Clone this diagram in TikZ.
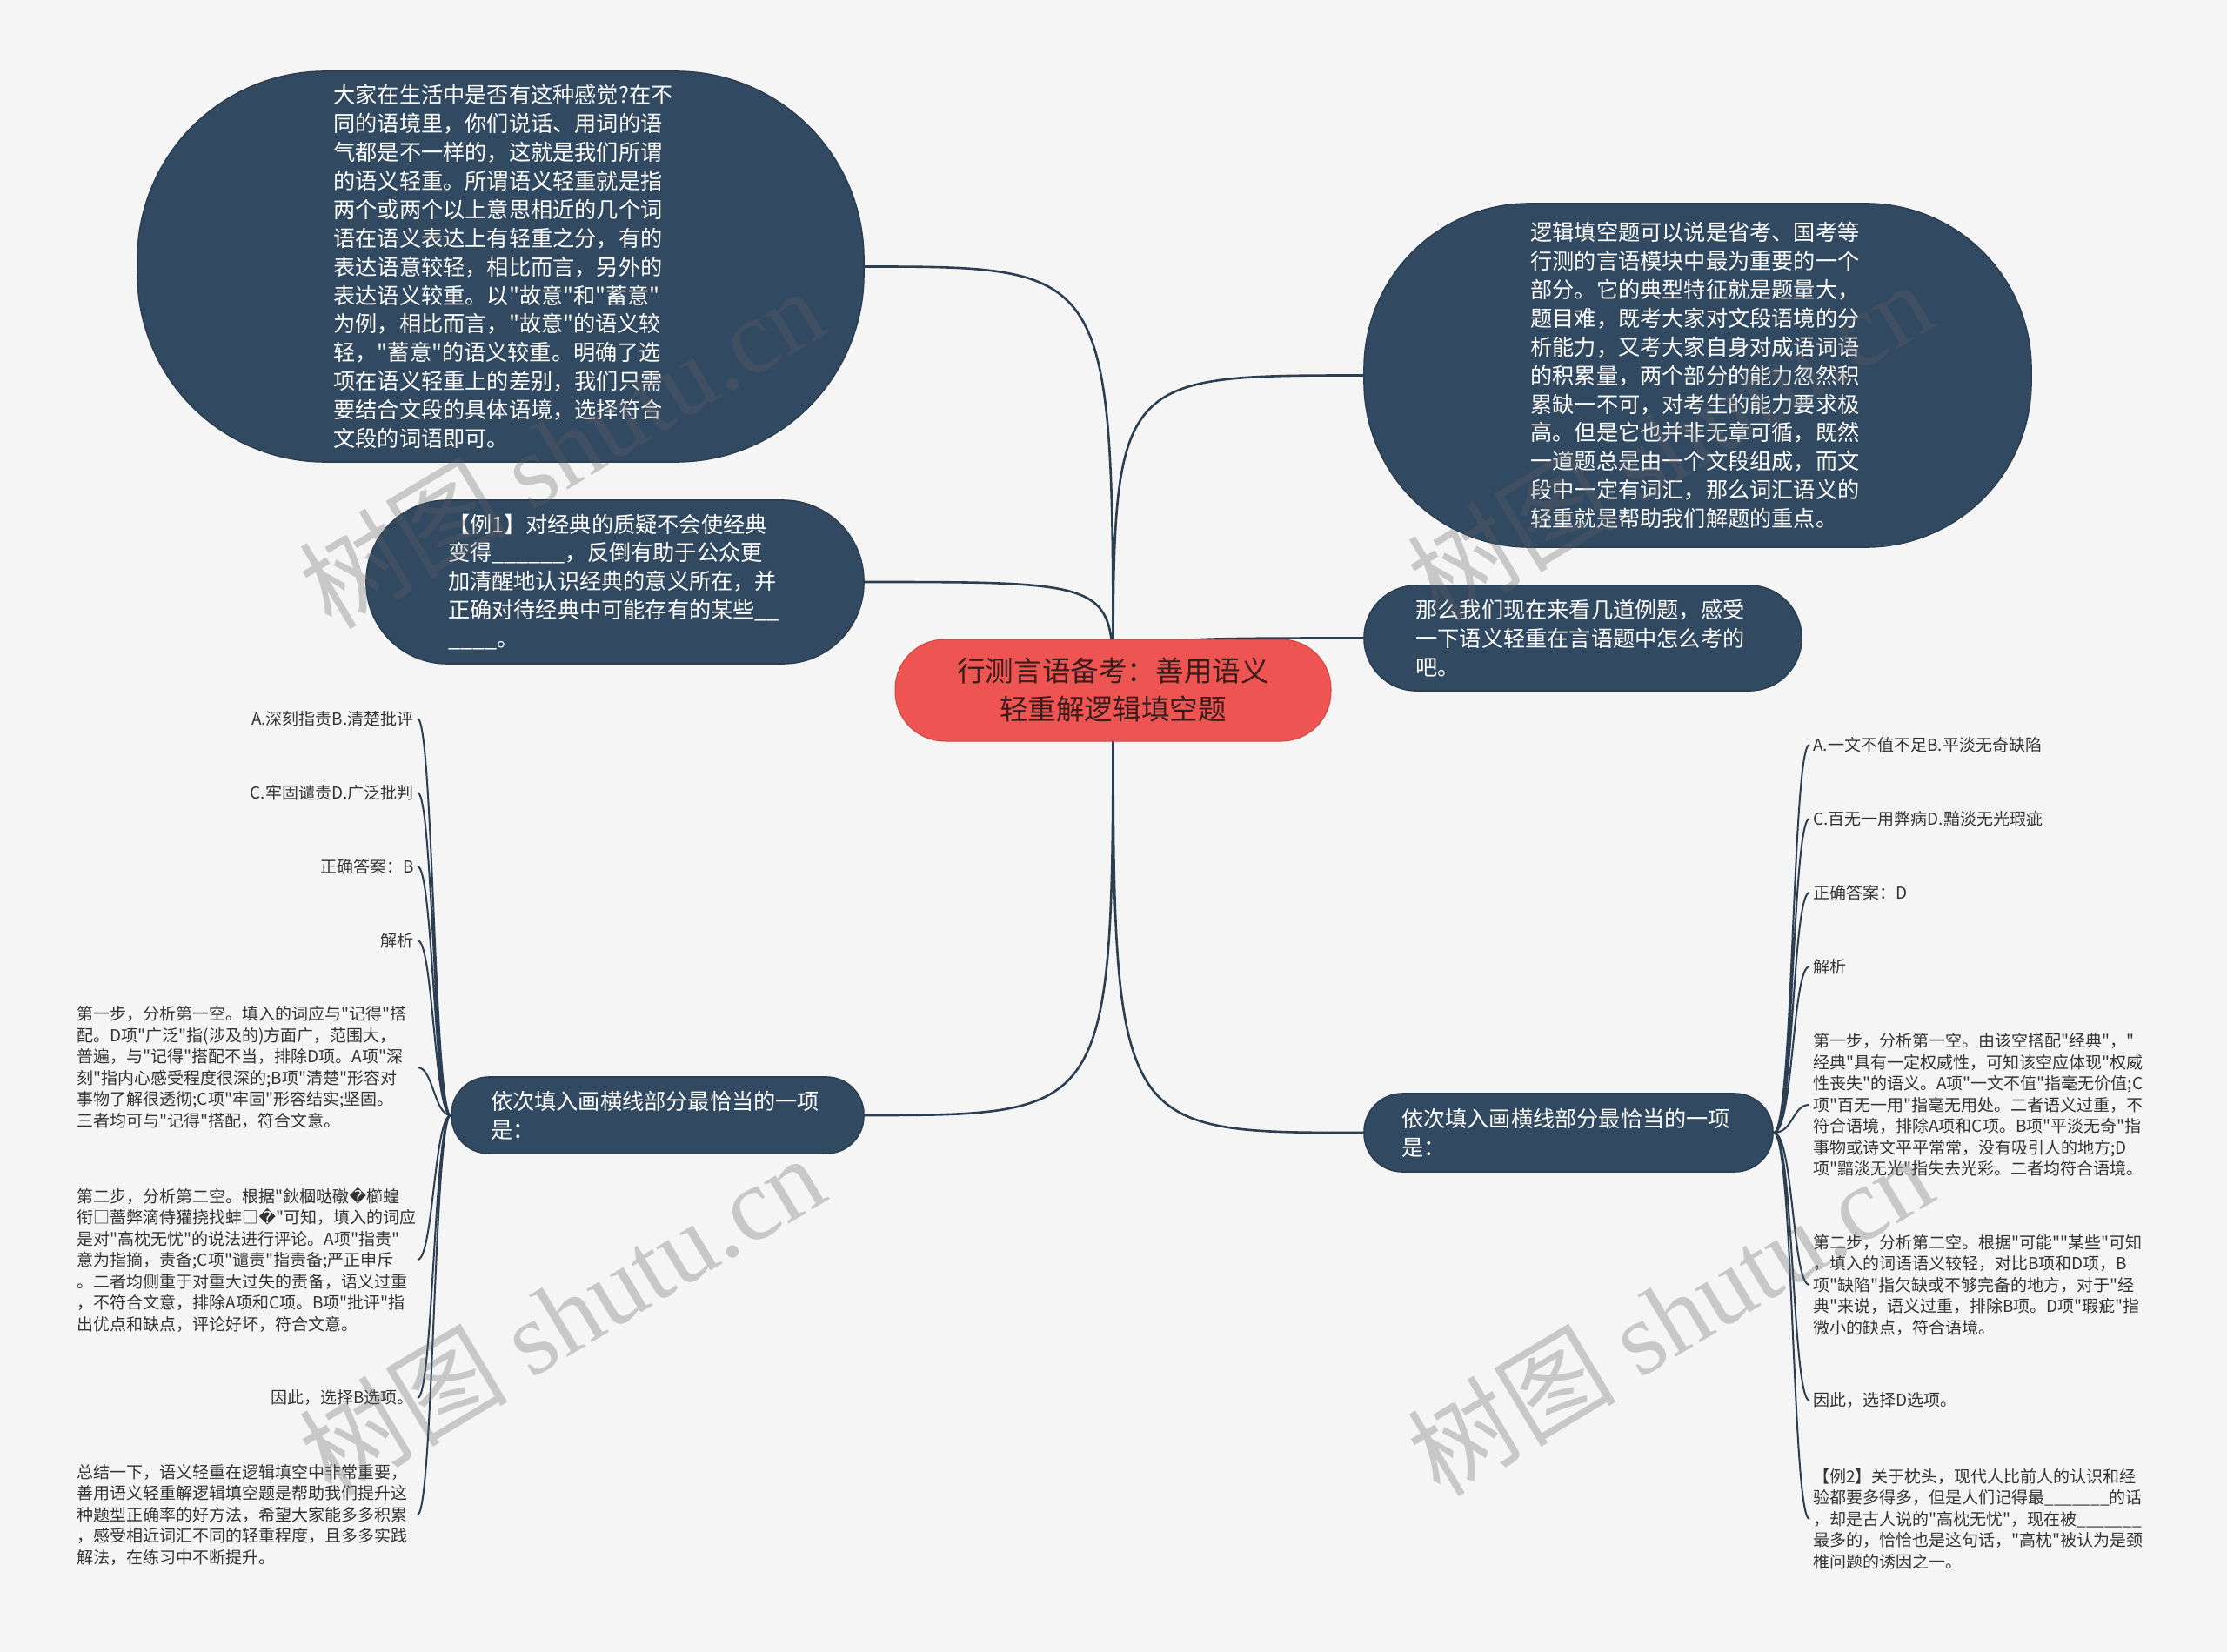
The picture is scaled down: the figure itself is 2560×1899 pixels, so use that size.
\documentclass[tikz,border=0pt]{standalone}
\usepackage{fontspec}
\setmainfont{Noto Sans CJK SC}[Ligatures=TeXOff]
\newfontfamily\wmfont{Liberation Serif}
\newfontfamily\dvsans{DejaVu Sans}
\usetikzlibrary{calc}

\definecolor{bgcol}{HTML}{F5F5F5}
\definecolor{navy}{HTML}{324962}
\definecolor{navyline}{HTML}{2C3E52}
\definecolor{rootred}{HTML}{EE5452}
\definecolor{roottext}{HTML}{3A1E1E}
\definecolor{leaftext}{HTML}{333333}
\definecolor{wmgray}{HTML}{636363}

\pgfdeclarelayer{bg}
\pgfdeclarelayer{links}
\pgfsetlayers{bg,links,main}

\tikzset{
  bubble/.style={draw=navyline, line width=0.8pt, fill=navy, text=white, align=left,
    text width=192pt, inner sep=0pt, font=\fontsize{12.6pt}{16.45pt}\selectfont},
  rootbox/.style={fill=rootred, draw=rootred!85!black, line width=0.5pt, text=roottext,
    align=center, inner sep=0pt, font=\fontsize{16.3pt}{22pt}\selectfont},
  leaf/.style={text=leaftext, align=left, inner sep=2pt, font=\fontsize{9.5pt}{12.25pt}\selectfont},
  link/.style={draw=navyline, line width=1.3pt},
  twig/.style={draw=navyline, line width=1pt},
  wmark/.style={text=wmgray, opacity=0.3, rotate=31, font=\fontsize{60pt}{60pt}\selectfont}
}

\begin{document}
\begin{tikzpicture}[x=0.5pt,y=-0.5pt]

\begin{pgfonlayer}{bg}
\fill[bgcol] (0,0) rectangle (2560,1899);
\end{pgfonlayer}

\node[rootbox, minimum width=250.5pt, minimum height=58.5pt, rounded corners=28.5pt] (root) at (1279.5,793.5) {行测言语备考：善用语义\\轻重解逻辑填空题};

\node[bubble, minimum width=417.5pt, minimum height=224.5pt, rounded corners=108pt] (intro) at (575.5,306.5) {大家在生活中是否有这种感觉?在不\\同的语境里，你们说话、用词的语\\气都是不一样的，这就是我们所谓\\的语义轻重。所谓语义轻重就是指\\两个或两个以上意思相近的几个词\\语在语义表达上有轻重之分，有的\\表达语意较轻，相比而言，另外的\\表达语义较重。以"故意"和"蓄意"\\为例，相比而言，"故意"的语义较\\轻，"蓄意"的语义较重。明确了选\\项在语义轻重上的差别，我们只需\\要结合文段的具体语境，选择符合\\文段的词语即可。};
\node[bubble, minimum width=286pt, minimum height=94pt, rounded corners=46.5pt] (ex1) at (707,669) {【例1】对经典的质疑不会使经典\\变得\_\_\_\_\_\_，反倒有助于公众更\\加清醒地认识经典的意义所在，并\\正确对待经典中可能存有的某些\_\_\\\_\_\_\_。};
\node[bubble, minimum width=383.5pt, minimum height=197.5pt, rounded corners=95pt] (keypt) at (1951.5,431.5) {逻辑填空题可以说是省考、国考等\\行测的言语模块中最为重要的一个\\部分。它的典型特征就是题量大，\\题目难，既考大家对文段语境的分\\析能力，又考大家自身对成语词语\\的积累量，两个部分的能力忽然积\\累缺一不可，对考生的能力要求极\\高。但是它也并非无章可循，既然\\一道题总是由一个文段组成，而文\\段中一定有词汇，那么词汇语义的\\轻重就是帮助我们解题的重点。};
\node[bubble, minimum width=251.5pt, minimum height=60.5pt, rounded corners=30pt] (lead) at (1819.5,733.5) {那么我们现在来看几道例题，感受\\一下语义轻重在言语题中怎么考的\\吧。};
\node[bubble, minimum width=237pt, minimum height=44pt, rounded corners=21.5pt] (q1) at (756,1282) {依次填入画横线部分最恰当的一项\\是：};
\node[bubble, minimum width=235pt, minimum height=45pt, rounded corners=22pt] (q2) at (1803,1302) {依次填入画横线部分最恰当的一项\\是：};

\node[leaf, anchor=east] (a1) at (480,826) {A.深刻指责B.清楚批评};
\node[leaf, anchor=east] (a2) at (480,911) {C.牢固谴责D.广泛批判};
\node[leaf, anchor=east] (a3) at (480,996) {正确答案：B};
\node[leaf, anchor=east] (a4) at (480,1081) {解析};
\node[leaf, anchor=east, text width=193.5pt] (a5) at (480,1227) {第一步，分析第一空。填入的词应与"记得"搭\\配。D项"广泛"指(涉及的)方面广，范围大，\\普遍，与"记得"搭配不当，排除D项。A项"深\\刻"指内心感受程度很深的;B项"清楚"形容对\\事物了解很透彻;C项"牢固"形容结实;坚固。\\三者均可与"记得"搭配，符合文意。};
\node[leaf, anchor=east, text width=193.5pt] (a6) at (480,1448) {第二步，分析第二空。根据"鈥棝哒礅{\dvsans �}櫛蝗\\衔□蔷弊滴侍獾挠找蚌□{\dvsans �}"可知，填入的词应\\是对"高枕无忧"的说法进行评论。A项"指责"\\意为指摘，责备;C项"谴责"指责备;严正申斥\\。二者均侧重于对重大过失的责备，语义过重\\，不符合文意，排除A项和C项。B项"批评"指\\出优点和缺点，评论好坏，符合文意。};
\node[leaf, anchor=east] (a7) at (480,1607) {因此，选择B选项。};
\node[leaf, anchor=east, text width=193.5pt] (a8) at (480,1741) {总结一下，语义轻重在逻辑填空中非常重要，\\善用语义轻重解逻辑填空题是帮助我们提升这\\种题型正确率的好方法，希望大家能多多积累\\，感受相近词汇不同的轻重程度，且多多实践\\解法，在练习中不断提升。};

\node[leaf, anchor=west] (b1) at (2080,856) {A.一文不值不足B.平淡无奇缺陷};
\node[leaf, anchor=west] (b2) at (2080,941) {C.百无一用弊病D.黯淡无光瑕疵};
\node[leaf, anchor=west] (b3) at (2080,1026) {正确答案：D};
\node[leaf, anchor=west] (b4) at (2080,1111) {解析};
\node[leaf, anchor=west, text width=193.5pt] (b5) at (2080,1270) {第一步，分析第一空。由该空搭配"经典"，"\\经典"具有一定权威性，可知该空应体现"权威\\性丧失"的语义。A项"一文不值"指毫无价值;C\\项"百无一用"指毫无用处。二者语义过重，不\\符合语境，排除A项和C项。B项"平淡无奇"指\\事物或诗文平平常常，没有吸引人的地方;D\\项"黯淡无光"指失去光彩。二者均符合语境。};
\node[leaf, anchor=west, text width=193.5pt] (b6) at (2080,1477) {第二步，分析第二空。根据"可能""某些"可知\\，填入的词语语义较轻，对比B项和D项，B\\项"缺陷"指欠缺或不够完备的地方，对于"经\\典"来说，语义过重，排除B项。D项"瑕疵"指\\微小的缺点，符合语境。};
\node[leaf, anchor=west] (b7) at (2080,1610) {因此，选择D选项。};
\node[leaf, anchor=west, text width=193.5pt] (b8) at (2080,1746) {【例2】关于枕头，现代人比前人的认识和经\\验都要多得多，但是人们记得最\_\_\_\_\_\_\_的话\\，却是古人说的"高枕无忧"，现在被\_\_\_\_\_\_\_\\最多的，恰恰也是这句话，"高枕"被认为是颈\\椎问题的诱因之一。};

\begin{pgfonlayer}{links}
\draw[link] (root.center) .. controls (root.center |- intro.east) .. (intro.east)
            (root.center) .. controls (root.center |- ex1.east) .. (ex1.east)
            (root.center) .. controls (root.center |- keypt.west) .. (keypt.west)
            (root.center) .. controls (root.center |- lead.west) .. (lead.west)
            (root.center) .. controls (root.center |- q1.east) .. (q1.east)
            (root.center) .. controls (root.center |- q2.west) .. (q2.west);
\draw[twig] (q1.west) .. controls +(-19,0) and +(18,0) .. (a1.east)
            (q1.west) .. controls +(-19,0) and +(18,0) .. (a2.east)
            (q1.west) .. controls +(-19,0) and +(18,0) .. (a3.east)
            (q1.west) .. controls +(-19,0) and +(18,0) .. (a4.east)
            (q1.west) .. controls +(-19,0) and +(18,0) .. (a5.east)
            (q1.west) .. controls +(-19,0) and +(18,0) .. (a6.east)
            (q1.west) .. controls +(-19,0) and +(18,0) .. (a7.east)
            (q1.west) .. controls +(-19,0) and +(18,0) .. (a8.east);
\draw[twig] (q2.east) .. controls +(23,0) and +(-20,0) .. (b1.west)
            (q2.east) .. controls +(23,0) and +(-20,0) .. (b2.west)
            (q2.east) .. controls +(23,0) and +(-20,0) .. (b3.west)
            (q2.east) .. controls +(23,0) and +(-20,0) .. (b4.west)
            (q2.east) .. controls +(23,0) and +(-20,0) .. (b5.west)
            (q2.east) .. controls +(23,0) and +(-20,0) .. (b6.west)
            (q2.east) .. controls +(23,0) and +(-20,0) .. (b7.west)
            (q2.east) .. controls +(23,0) and +(-20,0) .. (b8.west);
\end{pgfonlayer}

\node[wmark] (wm1) at (645,514) {树图 {\wmfont shutu.cn}};
\node[wmark] (wm2) at (1919,506) {树图 {\wmfont shutu.cn}};
\node[wmark] (wm3) at (645,1511) {树图 {\wmfont shutu.cn}};
\node[wmark] (wm4) at (1919,1511) {树图 {\wmfont shutu.cn}};

\end{tikzpicture}
\end{document}
